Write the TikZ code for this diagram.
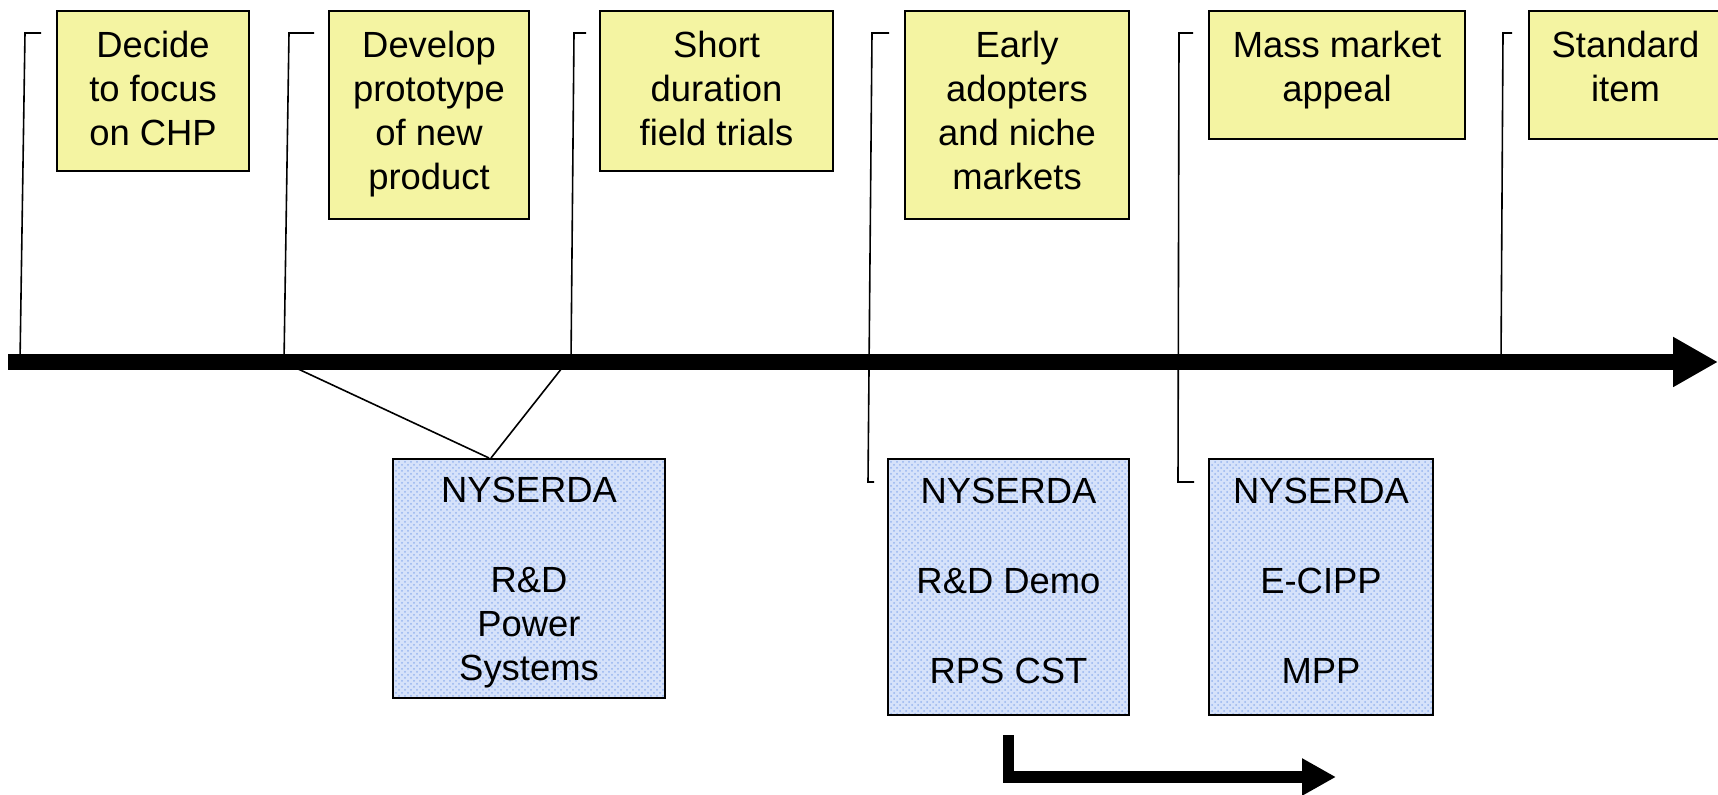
\documentclass[tikz,border=0pt]{standalone}
\usepackage{fontspec}
\setmainfont{Liberation Sans}
\usetikzlibrary{arrows.meta, patterns}

\definecolor{stageyellow}{RGB}{244,244,162}
\definecolor{progblue}{RGB}{214,226,250}
\definecolor{progdot}{RGB}{150,180,238}

\begin{document}
\begin{tikzpicture}[x=0.5pt, y=-0.5pt,
  stage/.style={draw, line width=1pt, fill=stageyellow, align=center, inner sep=0pt, anchor=north},
  prog/.style={draw, line width=1pt, preaction={fill=progblue}, pattern=crosshatch dots, pattern color=progdot, align=center, inner sep=0pt, anchor=north},
  flag/.style={line width=0.8pt},
  font=\fontsize{18.2}{22}\selectfont]
\useasboundingbox (0,0) rectangle (1718,795);

% stages along the time line
\node[stage, minimum width=96pt, text height=67.5pt, text depth=12.5pt] (decide) at (153,10) {Decide\\to focus\\on CHP};
\node[stage, minimum width=100pt, text height=89.5pt, text depth=14.5pt] (develop) at (429,10) {Develop\\prototype\\of new\\product};
\node[stage, minimum width=116.5pt, text height=67.5pt, text depth=12.5pt] (trials) at (716.5,10) {Short\\duration\\field trials};
\node[stage, minimum width=112pt, text height=89.5pt, text depth=14.5pt] (early) at (1017,10) {Early\\adopters\\and niche\\markets};
\node[stage, minimum width=128pt, text height=45.5pt, text depth=18.5pt] (mass) at (1337,10) {Mass market\\appeal};
\node[stage, minimum width=96.5pt, text height=45.5pt, text depth=18.5pt] (standard) at (1625.5,10) {Standard\\item};

% programmes
\node[prog, minimum width=136pt, text height=111pt, text depth=8.5pt] (rdpower) at (529,458) {NYSERDA\\[23pt]R\&D\\Power\\Systems};
\node[prog, minimum width=120.5pt, text height=112pt, text depth=16pt] (rddemo) at (1008.5,458) {NYSERDA\\[23pt]R\&D Demo\\[22.5pt]RPS CST};
\node[prog, minimum width=112pt, text height=112pt, text depth=16pt] (ecipp) at (1321,458) {NYSERDA\\[23pt]E-CIPP\\[22.5pt]MPP};

% flag lines
\coordinate (f1) at (41,33);   \coordinate (m1) at (20,362);
\coordinate (f2) at (314,33);  \coordinate (m2) at (284,362);
\coordinate (f3) at (586,33);  \coordinate (m3) at (571,362);
\coordinate (f4) at (889,33);  \coordinate (m4) at (874,482);
\coordinate (f5) at (1193,33); \coordinate (m5) at (1194,482);
\coordinate (f6) at (1512,33); \coordinate (m6) at (1501,362);

\draw[flag] (f1) -- (25,33) -- (m1);
\draw[flag] (f2) -- (289,33) -- (m2);
\draw[flag] (f3) -- (574,33) -- (m3);
\draw[flag] (f4) -- (872,33) -- (868,482) -- (m4);
\draw[flag] (f5) -- (1179,33) -- (1178,482) -- (m5);
\draw[flag] (f6) -- (1503,33) -- (m6);

\coordinate (p2) at (296,368);
\coordinate (p3) at (562,368);
\draw[flag] (p2) -- ([xshift=-20pt]rdpower.north);
\draw[flag] (p3) -- ([xshift=-19pt]rdpower.north);

% time line
\coordinate (start) at (8,362);
\coordinate (end) at (1718,362);
\draw[line width=8pt, -{Triangle[length=22.5pt, width=23.5pt]}] (start) -- (end);

% move on
\coordinate (next) at (1336,777);
\draw[line width=5.75pt, -{Triangle[length=17pt, width=17.5pt]}] ([yshift=-9.5pt]rddemo.south) |- (next);

\end{tikzpicture}
\end{document}
